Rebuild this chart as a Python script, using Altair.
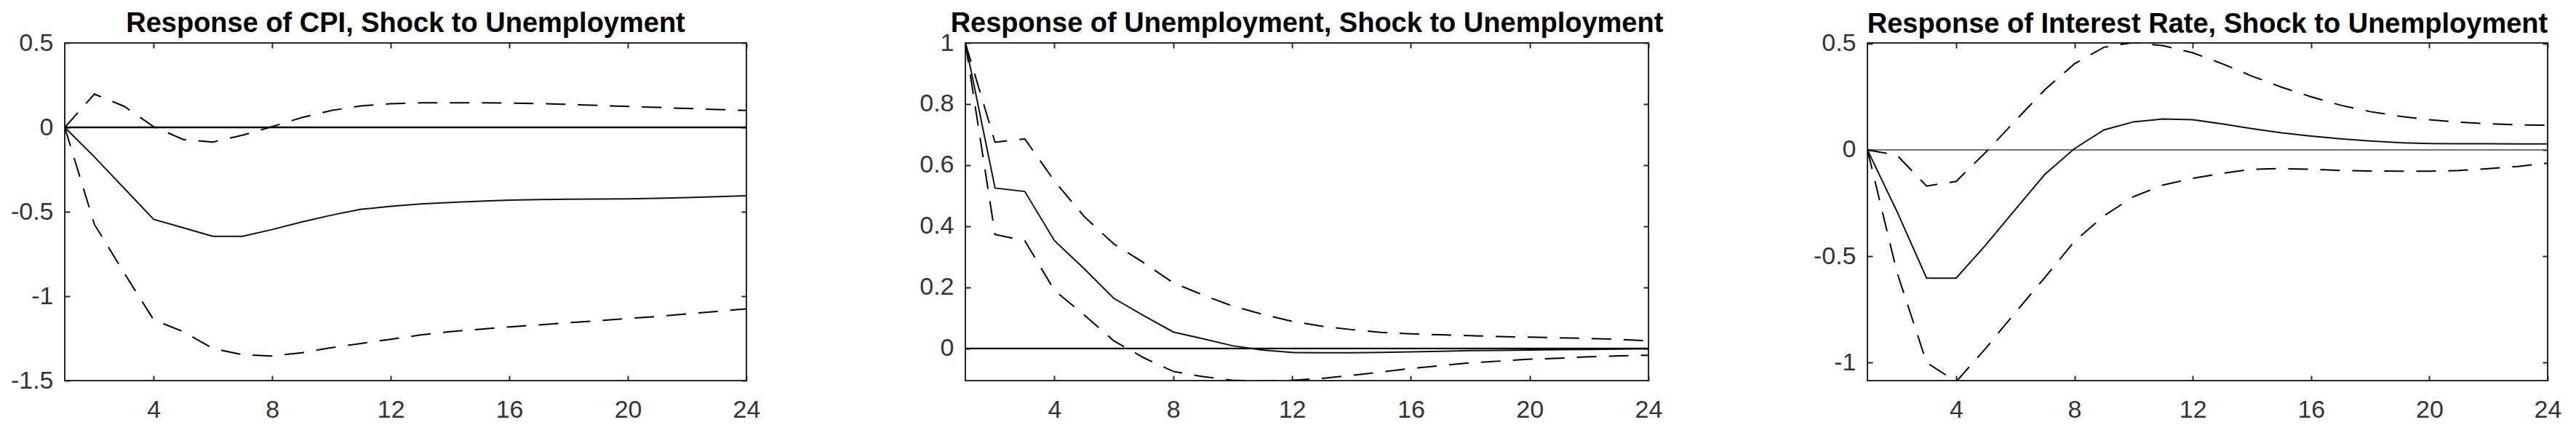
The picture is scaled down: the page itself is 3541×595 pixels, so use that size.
import altair as alt
import pandas as pd

# ---------------- data ----------------
horizon = list(range(1, 25))
x_ticks = [4, 8, 12, 16, 20, 24]
zero_level = [0]

titles = [
    "Response of CPI, Shock to Unemployment",
    "Response of Unemployment, Shock to Unemployment",
    "Response of Interest Rate, Shock to Unemployment",
]

cpi_irf = [0, -0.175, -0.36, -0.545, -0.595, -0.645, -0.645, -0.605, -0.56, -0.52,
           -0.485, -0.468, -0.454, -0.445, -0.437, -0.431, -0.428, -0.426, -0.425,
           -0.423, -0.42, -0.416, -0.411, -0.405]
cpi_hi = [0, 0.197, 0.125, 0.004, -0.072, -0.087, -0.046, 0.004, 0.058, 0.10,
          0.127, 0.14, 0.145, 0.146, 0.146, 0.144, 0.141, 0.136, 0.13, 0.124,
          0.118, 0.112, 0.106, 0.10]
cpi_lo = [0, -0.574, -0.861, -1.14, -1.21, -1.31, -1.347, -1.354, -1.335, -1.305,
          -1.28, -1.255, -1.23, -1.21, -1.196, -1.182, -1.17, -1.157, -1.145,
          -1.132, -1.12, -1.105, -1.09, -1.075]
cpi_yticks = [-1.5, -1, -0.5, 0, 0.5]
cpi_ydomain = [-1.5, 0.5]

un_irf = [1, 0.525, 0.514, 0.353, 0.261, 0.164, 0.108, 0.054, 0.032, 0.009,
          -0.005, -0.013, -0.014, -0.014, -0.013, -0.011, -0.009, -0.007, -0.006,
          -0.005, -0.004, -0.003, -0.002, -0.001]
un_hi = [1, 0.675, 0.686, 0.548, 0.432, 0.342, 0.281, 0.215, 0.175, 0.139,
         0.112, 0.089, 0.073, 0.062, 0.053, 0.048, 0.045, 0.042, 0.039, 0.037,
         0.035, 0.033, 0.03, 0.025]
un_lo = [1, 0.373, 0.353, 0.19, 0.11, 0.025, -0.03, -0.075, -0.092, -0.104,
         -0.107, -0.104, -0.098, -0.088, -0.077, -0.065, -0.056, -0.047, -0.041,
         -0.035, -0.032, -0.027, -0.024, -0.022]
un_yticks = [0, 0.2, 0.4, 0.6, 0.8, 1]
un_ydomain = [-0.105, 1]

ir_irf = [0, -0.29, -0.603, -0.603, -0.447, -0.28, -0.115, 0.006, 0.094, 0.132,
          0.145, 0.142, 0.122, 0.10, 0.08, 0.065, 0.052, 0.042, 0.034, 0.03,
          0.029, 0.029, 0.028, 0.028]
ir_hi = [0, -0.025, -0.17, -0.148, -0.011, 0.137, 0.283, 0.405, 0.483, 0.505,
         0.49, 0.457, 0.405, 0.347, 0.295, 0.25, 0.21, 0.18, 0.158, 0.142,
         0.13, 0.123, 0.118, 0.116]
ir_lo = [0, -0.576, -1.0, -1.09, -0.933, -0.765, -0.6, -0.43, -0.31, -0.22,
         -0.165, -0.134, -0.11, -0.091, -0.088, -0.091, -0.097, -0.099, -0.1,
         -0.1, -0.097, -0.088, -0.078, -0.062]
ir_yticks = [-1, -0.5, 0, 0.5]
ir_ydomain = [-1.085, 0.503]

# ---------------- styling ----------------
FONT = "Liberation Sans"
AXC = "#262626"
LABC = "#333333"
H = 464
TICK = 7


def panel(title, irf, lo, hi, ydomain, yticks, width, zero_w, zero_c):
    df = pd.DataFrame({"h": horizon, "irf": irf, "lo": lo, "hi": hi})
    bands = df.melt(id_vars="h", value_vars=["lo", "hi"], var_name="band", value_name="v")
    xs = alt.Scale(domain=[1, 24], nice=False, zero=False)
    ys = alt.Scale(domain=ydomain, nice=False, zero=False)

    common = dict(grid=False, domain=False, title=None, tickSize=TICK, tickWidth=2,
                  tickColor=AXC, offset=-TICK)
    x_main = alt.Axis(orient="bottom", values=x_ticks, labelPadding=23,
                      labelFont=FONT, labelFontSize=34, labelColor=LABC,
                      labelFlush=False, labelOverlap=False,
                      labelExpr="toString(datum.value)", **common)
    y_main = alt.Axis(orient="left", values=yticks, labelPadding=16,
                      labelFont=FONT, labelFontSize=34, labelColor=LABC,
                      labelFlush=False, labelOverlap=False,
                      labelExpr="toString(datum.value)", **common)
    x_mirror = alt.Axis(orient="top", values=x_ticks, labels=False, **common)
    y_mirror = alt.Axis(orient="right", values=yticks, labels=False, **common)

    zero = alt.Chart(pd.DataFrame({"z": zero_level})).mark_rule(
        color=zero_c, strokeWidth=zero_w
    ).encode(y=alt.Y("z:Q", scale=ys, axis=None))

    band_lines = alt.Chart(bands).mark_line(
        color="#000000", strokeWidth=2, strokeDash=[27, 17], clip=True
    ).encode(
        x=alt.X("h:Q", scale=xs, axis=x_mirror),
        y=alt.Y("v:Q", scale=ys, axis=y_mirror),
        detail="band:N",
    )

    solid = alt.Chart(df).mark_line(
        color="#111111", strokeWidth=2, clip=True
    ).encode(
        x=alt.X("h:Q", scale=xs, axis=x_main),
        y=alt.Y("irf:Q", scale=ys, axis=y_main),
    )

    return alt.layer(zero, band_lines, solid).properties(
        width=width, height=H,
        title=alt.TitleParams(text=title, font=FONT, fontSize=38, fontWeight="bold",
                              color="#000000", anchor="middle", offset=-10),
    )


p1 = panel(titles[0], cpi_irf, cpi_lo, cpi_hi, cpi_ydomain, cpi_yticks, 937, 2.4, "#000000")
p2 = panel(titles[1], un_irf, un_lo, un_hi, un_ydomain, un_yticks, 939, 2.4, "#000000")
p3 = panel(titles[2], ir_irf, ir_lo, ir_hi, ir_ydomain, ir_yticks, 935, 1.6, "#444444")

chart = alt.hconcat(p1, p2, p3, spacing=301, bounds="flush").configure_view(
    stroke=AXC, strokeWidth=2
).properties(background="white",
             padding={"left": 5, "right": 5, "top": 5, "bottom": 5})

chart.save("out.html", embed_options={"renderer": "svg", "actions": False})
